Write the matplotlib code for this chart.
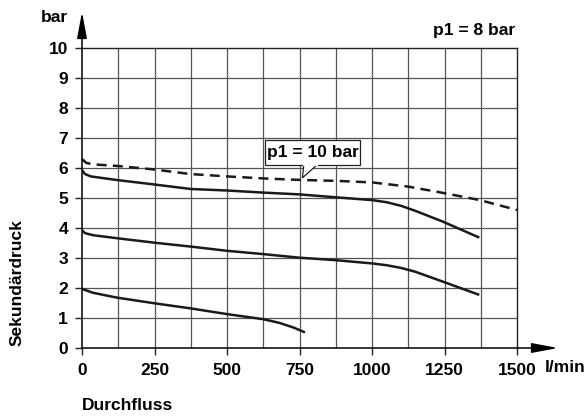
import matplotlib
matplotlib.use("Agg")
import matplotlib.pyplot as plt
from matplotlib.patches import Polygon

plt.rcParams['font.family'] = ['Liberation Sans', 'DejaVu Sans']
plt.rcParams['font.weight'] = 'bold'

# Data (flow l/min, secondary pressure bar)
flow_p10 = [0, 15, 40, 120, 250, 372, 500, 630, 760, 880, 1000, 1125, 1245, 1372, 1500]
pres_p10 = [6.3, 6.17, 6.12, 6.07, 5.95, 5.8, 5.72, 5.65, 5.6, 5.57, 5.52, 5.38, 5.17, 4.93, 4.6]

flow_a = [0, 10, 30, 60, 120, 250, 375, 500, 625, 750, 880, 1000, 1050, 1100, 1150, 1245, 1370]
pres_a = [5.93, 5.8, 5.72, 5.68, 5.6, 5.45, 5.3, 5.25, 5.18, 5.12, 5.02, 4.93, 4.86, 4.74, 4.57, 4.21, 3.68]

flow_b = [0, 10, 38, 120, 250, 375, 500, 625, 750, 872, 1000, 1050, 1100, 1150, 1245, 1370]
pres_b = [3.93, 3.83, 3.76, 3.66, 3.51, 3.38, 3.24, 3.13, 3.01, 2.93, 2.82, 2.76, 2.67, 2.54, 2.21, 1.77]

flow_c = [0, 38, 120, 250, 375, 500, 625, 680, 730, 769]
pres_c = [1.97, 1.84, 1.68, 1.49, 1.32, 1.13, 0.96, 0.84, 0.68, 0.52]

x_ticks = [0, 250, 500, 750, 1000, 1250, 1500]
y_ticks = list(range(0, 11))

FS = 12.5

fig = plt.figure(figsize=(5.87, 4.17), dpi=100)
ax = fig.add_axes([82/587, 1-348/417, 435/587, 300/417])
ax.set_xlim(0, 1500)
ax.set_ylim(0, 10)

# grid
for gx in range(125, 1500, 125):
    ax.axvline(gx, color='#555555', lw=0.9, zorder=1)
for gy in range(1, 10):
    ax.axhline(gy, color='#555555', lw=0.9, zorder=1)

for s in ['top', 'right']:
    ax.spines[s].set_color('#222222')
    ax.spines[s].set_linewidth(1.0)
for s in ['left', 'bottom']:
    ax.spines[s].set_visible(False)

ax.set_xticks(x_ticks)
ax.set_yticks(y_ticks)
ax.tick_params(axis='both', direction='out', length=5, width=1.0, color='#222222',
               labelsize=FS, pad=5)
for lbl in ax.get_xticklabels() + ax.get_yticklabels():
    lbl.set_fontweight('bold')
ax.tick_params(axis='x', pad=6)

# axes with arrows
ax.annotate('', xy=(0, 336/300 * 10), xytext=(0, 0), xycoords='data',
            arrowprops=dict(arrowstyle='-|>,head_length=1.6,head_width=0.3',
                            color='black', lw=1.1, shrinkA=0, shrinkB=0),
            annotation_clip=False, zorder=5)
ax.annotate('', xy=(1500 * 476/435, 0), xytext=(0, 0), xycoords='data',
            arrowprops=dict(arrowstyle='-|>,head_length=1.6,head_width=0.3',
                            color='black', lw=1.1, shrinkA=0, shrinkB=0),
            annotation_clip=False, zorder=5)

# curves
ax.plot(flow_p10, pres_p10, color='#1a1a1a', lw=1.8, ls=(0, (4, 2.5)), zorder=3,
        clip_on=False)
for fx, py in [(flow_a, pres_a), (flow_b, pres_b), (flow_c, pres_c)]:
    ax.plot(fx, py, color='#1a1a1a', lw=1.8, zorder=3, solid_capstyle='butt')

# callout "p1 = 10 bar"
box_l, box_r, box_b, box_t = 630, 960, 6.1, 6.95
tail = Polygon([(765, box_b + 0.02), (760, 5.67), (812, box_b + 0.02)], closed=False,
               facecolor='white', edgecolor='#222222', lw=0.9, zorder=6)
box = Polygon([(box_l, box_b), (box_l, box_t), (box_r, box_t), (box_r, box_b)],
              closed=True, facecolor='white', edgecolor='#222222', lw=0.9, zorder=5)
ax.add_patch(box)
ax.add_patch(tail)
ax.plot([765, 812], [box_b, box_b], color='white', lw=1.4, zorder=6)
ax.text((box_l + box_r) / 2, (box_b + box_t) / 2 - 0.02, 'p1 = 10 bar', ha='center',
        va='center', fontsize=FS, fontweight='bold', zorder=7)

# labels
fig.text(68/587, 1-18/417, 'bar', ha='right', va='center', fontsize=FS, fontweight='bold')
fig.text(515/587, 1-31/417, 'p1 = 8 bar', ha='right', va='center', fontsize=FS,
         fontweight='bold')
fig.text(545/587, 1-368/417, 'l/min', ha='left', va='center', fontsize=FS,
         fontweight='bold')
fig.text(82/587, 1-405/417, 'Durchfluss', ha='left', va='center', fontsize=FS,
         fontweight='bold')
fig.text(17/587, 1-283/417, 'Sekundärdruck', ha='center', va='center', rotation=90,
         fontsize=FS, fontweight='bold')

fig.savefig('out.png', dpi=100, facecolor='white')
